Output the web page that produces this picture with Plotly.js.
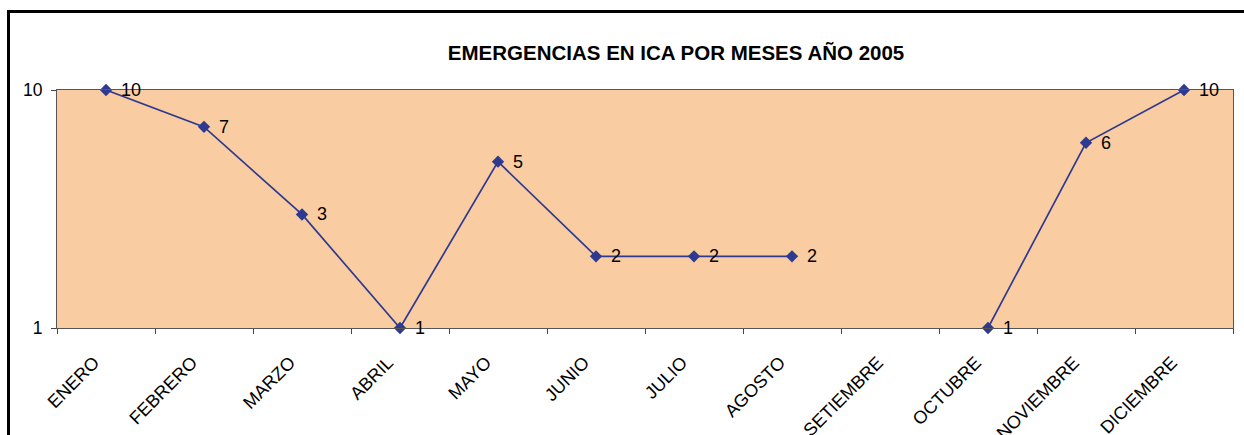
<!DOCTYPE html>
<html><head><meta charset="utf-8">
<script src="https://cdn.plot.ly/plotly-3.0.1.min.js"></script>
<style>
html,body{margin:0;padding:0;overflow:hidden;background:#fff;width:1244px;height:435px;}
#frame{position:absolute;left:7px;top:10px;width:1260px;height:460px;border:3px solid #000;box-sizing:border-box;}
#chart{position:absolute;left:0;top:0;width:1244px;height:435px;}
</style></head>
<body>
<div id="frame"></div>
<div id="chart"></div>
<script>
const months = ["ENERO","FEBRERO","MARZO","ABRIL","MAYO","JUNIO","JULIO","AGOSTO","SETIEMBRE","OCTUBRE","NOVIEMBRE","DICIEMBRE"];
const emergencias = [10,7,3,1,5,2,2,2,null,1,6,10];
const titleText = "EMERGENCIAS EN ICA POR MESES AÑO 2005";

const font = "Arial, 'Liberation Sans', sans-serif";
const navy = "#2E3A8F";
const trace = {
  x: months, y: emergencias, type: "scatter", mode: "lines+markers",
  line: {color: navy, width: 1.7},
  marker: {symbol: "diamond", size: 9.5, color: navy},
  connectgaps: false, cliponaxis: false, hoverinfo: "none"
};
const labels = [];
months.forEach((m, i) => {
  const v = emergencias[i];
  if (v === null) return;
  labels.push({x: m, y: Math.log10(v), xref: "x", yref: "y", text: String(v),
    showarrow: false, xanchor: "left", yanchor: "middle", xshift: 13,
    font: {family: font, size: 18, color: "#000"}});
});
const layout = {
  width: 1244, height: 435,
  margin: {l: 57, r: 11, t: 90, b: 107},
  paper_bgcolor: "rgba(0,0,0,0)",
  plot_bgcolor: "#F9CCA2",
  showlegend: false,
  annotations: labels,
  title: {text: "<b>" + titleText + "</b>", font: {family: font, size: 20.5, color: "#000"},
          x: 0.5264, xref: "paper", xanchor: "center", y: 1 - 53/435, yref: "container", yanchor: "middle"},
  xaxis: {type: "category", tickson: "boundaries", ticks: "outside", ticklen: 5, tickcolor: "#444",
          tickangle: -45, tickfont: {family: font, size: 18, color: "#000"},
          ticklabelstandoff: 16, ticklabelshift: -12,
          showline: true, linecolor: "#555", linewidth: 1, mirror: true, showgrid: false,
          range: [-0.5, 11.5], fixedrange: true},
  yaxis: {type: "log", range: [0, 1], tickvals: [1, 10], ticktext: ["1", "10"],
          ticks: "outside", ticklen: 5, tickcolor: "#444", ticklabelstandoff: 5,
          tickfont: {family: font, size: 17.5, color: "#000"},
          showline: true, linecolor: "#555", linewidth: 1, mirror: true, showgrid: false,
          zeroline: false, fixedrange: true}
};
Plotly.newPlot("chart", [trace], layout, {displayModeBar: false, staticPlot: true});
</script>
</body></html>
